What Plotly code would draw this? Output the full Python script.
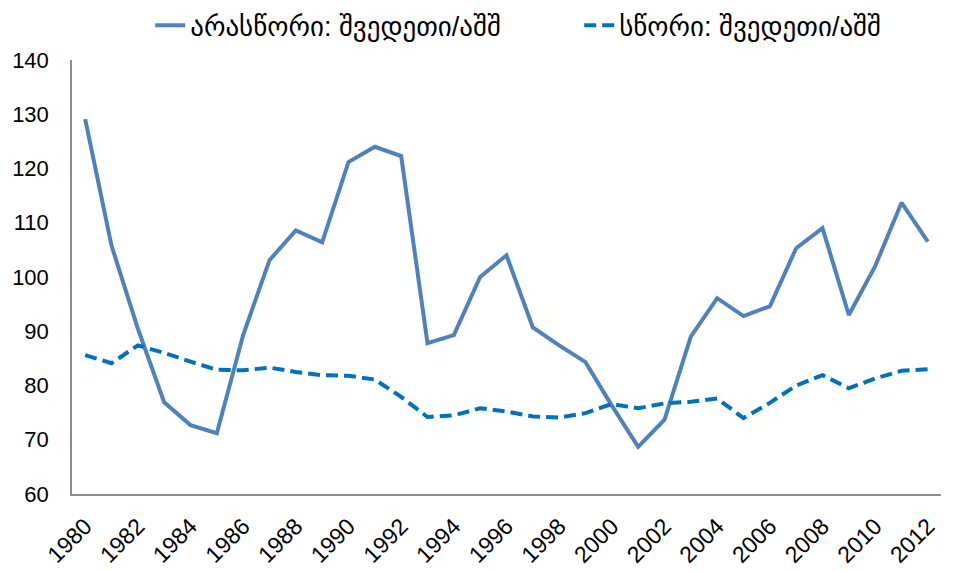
import plotly.graph_objects as go

years = list(range(1980, 2013))
unadjusted = [129.1, 105.8, 90.5, 76.9, 72.7, 71.2, 89.3, 103.1, 108.6, 106.4,
              121.2, 124.0, 122.3, 87.8, 89.3, 100.0, 104.0, 90.7, 87.4, 84.3,
              76.3, 68.7, 73.7, 89.0, 96.1, 92.8, 94.6, 105.3, 109.0, 93.0,
              102.0, 113.7, 106.5]
adjusted = [85.6, 84.1, 87.4, 86.0, 84.4, 82.9, 82.8, 83.3, 82.5, 81.9,
            81.8, 81.1, 77.9, 74.2, 74.5, 75.8, 75.2, 74.3, 74.1, 74.9,
            76.6, 75.8, 76.7, 77.0, 77.6, 74.0, 76.8, 80.0, 81.9, 79.5,
            81.3, 82.7, 83.0]
name_unadj = "არასწორი: შვედეთი/აშშ"
name_adj = "სწორი: შვედეთი/აშშ"
xticks = list(range(1980, 2013, 2))
yticks = list(range(60, 141, 10))

font_fam = "Liberation Sans, DejaVu Sans, sans-serif"

fig = go.Figure()
fig.add_trace(go.Scatter(x=years, y=unadjusted, mode="lines", name=name_unadj,
                         line=dict(color="#4F81BD", width=4)))
fig.add_trace(go.Scatter(x=years, y=adjusted, mode="lines", name=name_adj,
                         line=dict(color="#0070C0", width=4, dash="12px,6px")))

fig.update_layout(
    width=954, height=563,
    margin=dict(l=64, r=21, t=52, b=77, autoexpand=False),
    paper_bgcolor="white", plot_bgcolor="white",
    font=dict(family=font_fam, size=22, color="black"),
    showlegend=True,
    legend=dict(orientation="h", x=0.09, xanchor="left", y=1.079, yanchor="middle",
                yref="paper", font=dict(size=27), bgcolor="rgba(0,0,0,0)",
                entrywidth=384, entrywidthmode="pixels"),
    xaxis=dict(range=[1979.5, 2012.5], tickvals=xticks, ticktext=[str(t) for t in xticks],
               tickangle=-45, showgrid=False, zeroline=False, automargin=False,
               showline=True, linecolor="#8C8C8C", linewidth=1.5,
               ticks="", ticklabelstandoff=8, tickfont=dict(size=23)),
    yaxis=dict(range=[60, 140], tickvals=yticks, showgrid=False, zeroline=False,
               automargin=False,
               showline=True, linecolor="#8C8C8C", linewidth=1.5,
               ticks="", ticklabelstandoff=17, tickfont=dict(size=22)),
)

fig.write_html("out.html")
